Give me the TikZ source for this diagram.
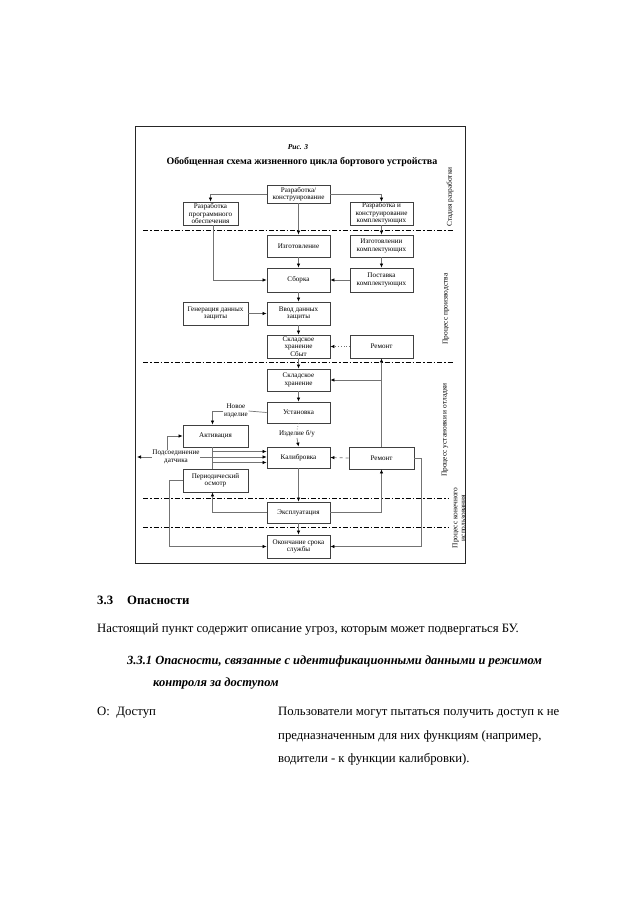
\documentclass[tikz,border=0pt]{standalone}
\usepackage{fontspec}
\setmainfont{Liberation Serif}
\usetikzlibrary{arrows.meta}
\newcommand\bxf{\fontsize{7.1}{7.3}\selectfont}
\newcommand\sdf{\fontsize{7.4}{8}\selectfont}
\newcommand\bodyf{\fontsize{12.75}{15}\selectfont}
\newcommand\headf{\fontsize{12.5}{15}\selectfont}
\begin{document}
\begin{tikzpicture}[x=1pt,y=-1pt,
  bx/.style={draw=black!75,line width=0.8pt,inner sep=0pt,align=center,font=\bxf},
  lbl/.style={inner sep=0.5pt,align=center,font=\bxf},
  ln/.style={draw=black!55,line width=0.7pt},
  arr/.style={ln,-{Latex[length=4pt,width=3.5pt,black]}},
  dd/.style={line width=0.9pt,black,dash pattern=on 5pt off 2pt on 1.5pt off 2pt},
  side/.style={rotate=90,font=\sdf,align=center,inner sep=0pt},
  body/.style={font=\bodyf,inner sep=0pt,anchor=base west}]
\useasboundingbox (0,0) rectangle (640,905);
\fill[white] (0,0) rectangle (640,905);
% frame
\draw[line width=1pt,black!85] (135,126) rectangle (465,563);
% titles
\node[font=\bfseries\itshape\fontsize{7.5}{9}\selectfont,inner sep=0pt] (fig) at (298,147) {Рис. 3};
\node[font=\bfseries\fontsize{10}{12}\selectfont,inner sep=0pt] (ttl) at (302,162) {Обобщенная схема жизненного цикла бортового устройства};
% boxes
\node[bx,minimum width=63,minimum height=18] (rk) at (298.5,194) {Разработка/\\конструирование};
\node[bx,minimum width=55,minimum height=23] (po) at (210.5,213.5) {Разработка\\программного\\обеспечения};
\node[bx,minimum width=63,minimum height=23] (rkk) at (381.5,213.5) {Разработка и\\конструирование\\комплектующих};
\node[bx,minimum width=63,minimum height=22] (izg) at (298.5,246) {Изготовление};
\node[bx,minimum width=63,minimum height=22] (izgk) at (381.5,246) {Изготовлении\\комплектующих};
\node[bx,minimum width=63,minimum height=24] (sb) at (298.5,280) {Сборка};
\node[bx,minimum width=63,minimum height=24] (post) at (381.5,280) {Поставка\\комплектующих};
\node[bx,minimum width=65,minimum height=23] (gen) at (215.5,313.5) {Генерация данных\\защиты};
\node[bx,minimum width=63,minimum height=23] (vvod) at (298.5,313.5) {Ввод данных\\защиты};
\node[bx,minimum width=63,minimum height=23] (skl1) at (298.5,346.5) {Складское\\хранение\\Сбыт};
\node[bx,minimum width=63,minimum height=23] (rem1) at (381.5,346.5) {Ремонт};
\node[bx,minimum width=63,minimum height=22] (skl2) at (298.5,380) {Складское\\хранение};
\node[bx,minimum width=63,minimum height=21] (ust) at (298.5,412.5) {Установка};
\node[bx,minimum width=65,minimum height=22] (akt) at (215.5,436) {Активация};
\node[bx,minimum width=63,minimum height=21] (kal) at (298.5,457.5) {Калибровка};
\node[bx,minimum width=65,minimum height=22] (rem2) at (381.5,458) {Ремонт};
\node[bx,minimum width=65,minimum height=23] (per) at (215.5,480.5) {Периодический\\осмотр};
\node[bx,minimum width=63,minimum height=21] (expl) at (298.5,512.5) {Эксплуатация};
\node[bx,minimum width=63,minimum height=23] (ok) at (298.5,546.5) {Окончание срока\\службы};
% labels
\node[lbl] (ni) at (236,411) {Новое\\изделие};
\node[lbl] (ib) at (297,434) {Изделие б/у};
\node[lbl] (pd) at (176,457) {Подсоединение\\датчика};
\coordinate (pdl) at (137,458);
% side labels
\node[side] (s1) at (450,197) {Стадия разработки};
\node[side] (s2) at (446,309) {Процесс производства};
\node[side] (s3) at (445,430) {Процесс установки и отладки};
\node[side] (s4) at (459,518) {Процесс конечного\\использования};
% dash-dot separators
\draw[dd] (143,230) -- (453,230);
\draw[dd] (143,362) -- (453,362);
\draw[dd] (143,498) -- (448,498);
\draw[dd] (143,527) -- (448,527);
% connectors
\draw[arr] (rk.west) -| (po.north);
\draw[arr] (rk.east) -| (rkk.north);
\draw[arr] (rk.south) -- (izg.north);
\draw[arr] (rkk.south) -- (izgk.north);
\draw[arr] (izg.south) -- (sb.north);
\draw[arr] (izgk.south) -- (post.north);
\draw[arr] (post.west) -- (sb.east);
\draw[arr] ([xshift=3]po.south) |- (sb.west);
\draw[arr] (sb.south) -- (vvod.north);
\draw[arr] (gen.east) -- (vvod.west);
\draw[arr] (vvod.south) -- (skl1.north);
\draw[arr,dotted] (rem1.west) -- (skl1.east);
\draw[arr] (skl1.south) -- (skl2.north);
\draw[arr] (rem2.north) -- (rem1.south);
\draw[arr] (rem2.north |- skl2.east) -- (skl2.east);
\draw[arr] (skl2.south) -- (ust.north);
\draw[ln] (ust.west) -- (ni.east);
\draw[arr] (ni.west) -| ([xshift=-3]akt.north);
\draw[ln,dotted] (ust.south) -- (ib.north);
\draw[arr] (ib.south) -- (kal.north);
\draw[arr] ([xshift=-3]akt.south) |- ([yshift=-5]kal.west);
\draw[arr] (pd.east) -- (pd.east -| kal.west);
\draw[arr] (pd.west) -- (pd.west -| pdl);
\draw[arr] ([xshift=-9]pd.north) |- (akt.west);
\draw[arr] ([xshift=-3]per.north) |- ([yshift=6]kal.west);
\draw[arr] (kal.south) -- (expl.north);
\draw[arr] (expl.west) -| ([xshift=-3]per.south);
\draw[arr] (expl.east) -| (rem2.south);
\draw[arr] (expl.south) -- (ok.north);
\draw[arr] (per.west) -- ++(-13,0) |- (ok.west);
\draw[arr,dashed] (rem2.west) -- (kal.east);
\draw[arr] (rem2.east) -- ++(7,0) |- (ok.east);
% body text
\node[body,font=\bfseries\bodyf] (h33) at (97,604) {3.3};
\node[body,font=\bfseries\bodyf] (h33t) at (127,604) {Опасности};
\node[body] (p1) at (97,632) {Настоящий пункт содержит описание угроз, которым может подвергаться БУ.};
\node[body,font=\bfseries\itshape\headf] (h331) at (127,664) {3.3.1 Опасности, связанные с идентификационными данными и режимом};
\node[body,font=\bfseries\itshape\headf] (h331b) at (153,686) {контроля за доступом};
\node[body] (od) at (97,715) {О:\ \ Доступ};
\node[body] (t1) at (278,715) {Пользователи могут пытаться получить доступ к не};
\node[body] (t2) at (278,739) {предназначенным для них функциям (например,};
\node[body] (t3) at (278,762) {водители - к функции калибровки).};
\end{tikzpicture}
\end{document}
